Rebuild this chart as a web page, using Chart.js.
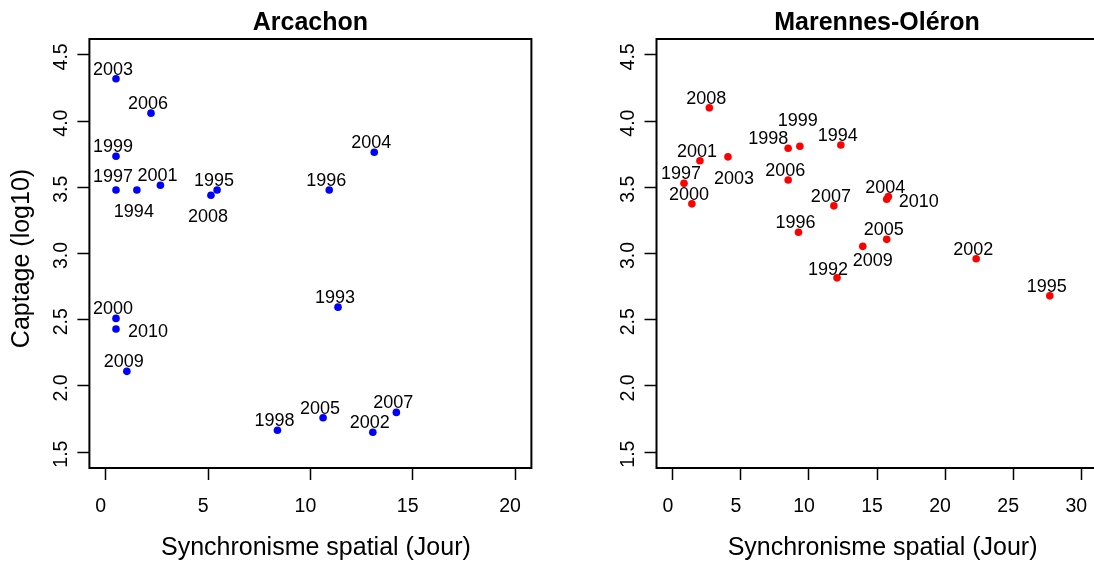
<!DOCTYPE html>
<html>
<head>
<meta charset="utf-8">
<script src="https://cdn.jsdelivr.net/npm/chart.js@4.4.1/dist/chart.umd.min.js"></script>
<style>
  html, body { margin: 0; padding: 0; background: #fff; overflow: hidden; }
  #wrap { position: relative; width: 1094px; height: 563px; overflow: hidden; }
  canvas { position: absolute; top: 0; }
  #arcachon { left: 0; }
  #marennes { left: 550px; }
</style>
</head>
<body>
<div id="wrap">
  <canvas id="arcachon" width="550" height="563"></canvas>
  <canvas id="marennes" width="560" height="563"></canvas>
</div>
<script>
// Arcachon
const arcYears = [1993, 1994, 1995, 1996, 1997, 1998, 1999, 2000, 2001, 2002, 2003, 2004, 2005, 2006, 2007, 2008, 2009, 2010];
const arcSync = [11.35, 1.52, 5.44, 10.92, 0.5, 8.39, 0.5, 0.5, 2.67, 13.05, 0.5, 13.12, 10.62, 2.21, 14.2, 5.14, 1.03, 0.5];
const arcCaptage = [2.595, 3.48, 3.48, 3.48, 3.48, 1.665, 3.735, 2.51, 3.515, 1.65, 4.32, 3.765, 1.76, 4.06, 1.8, 3.44, 2.11, 2.43];
const arcLabelPos = ["up", "down", "up", "up", "upHigh", "up", "up", "up", "up", "up", "up", "up", "up", "up", "up", "down", "up", "right"];

// Marennes-Oléron
const marYears = [1992, 1994, 1995, 1996, 1997, 1998, 1999, 2000, 2001, 2002, 2003, 2004, 2005, 2006, 2007, 2008, 2009, 2010];
const marSync = [12.06, 12.34, 27.69, 9.23, 0.82, 8.47, 9.33, 1.4, 1.99, 22.28, 4.05, 15.83, 15.71, 8.47, 11.83, 2.68, 13.95, 15.71];
const marCaptage = [2.816, 3.82, 2.68, 3.16, 3.53, 3.795, 3.81, 3.375, 3.7, 2.96, 3.73, 3.43, 3.107, 3.555, 3.36, 4.1, 3.054, 3.41];
const marLabelPos = ["upLeftNear", "up", "up", "up", "up", "upLeft", "upHigher", "up", "up", "up", "downRight", "up", "up", "up", "up", "up", "downRight2", "right"];

// axes
const arcXTicks = [0, 5, 10, 15, 20];
const marXTicks = [0, 5, 10, 15, 20, 25, 30];
const yTicks = [1.5, 2.0, 2.5, 3.0, 3.5, 4.0, 4.5];
const xTitle = "Synchronisme spatial (Jour)";
const yTitle = "Captage (log10)";

const FONT = "'Liberation Sans', Arial, Helvetica, sans-serif";

// label offsets (text centre relative to the point)
const labelOffsets = {
  up: [-3, -9],
  upHigh: [-3, -13],
  upHigher: [-2, -25],
  upLeft: [-20, -9],
  upLeftNear: [-9, -8],
  down: [-3, 22],
  downRight: [6, 22],
  downRight2: [10, 15],
  right: [32, 3],
};

const boxPlugin = {
  id: "box",
  afterDraw(chart) {
    const { ctx, chartArea: a } = chart;
    ctx.save();
    ctx.strokeStyle = "#000";
    ctx.lineWidth = 2;
    ctx.strokeRect(a.left, a.top, a.right - a.left, a.bottom - a.top);
    ctx.restore();
  },
};

// y tick labels (rotated, like R) and the axis titles
const axisTextPlugin = {
  id: "axisText",
  afterDraw(chart, args, opts) {
    const { ctx, chartArea: a } = chart;
    const y = chart.scales.y;
    ctx.save();
    ctx.fillStyle = "#000";
    ctx.textAlign = "center";
    ctx.textBaseline = "middle";
    ctx.font = "19.5px " + FONT;
    y.ticks.forEach((t) => {
      const py = y.getPixelForValue(t.value);
      ctx.save();
      ctx.translate(a.left - 28, py + 2);
      ctx.rotate(-Math.PI / 2);
      ctx.fillText(t.value.toFixed(1), 0, 0);
      ctx.restore();
    });

    ctx.font = "25px " + FONT;
    ctx.fillText(xTitle, (a.left + a.right) / 2 + 5.5, 548);
    if (opts.showYTitle) {
      ctx.save();
      ctx.translate(22, (a.top + a.bottom) / 2 + 5);
      ctx.rotate(-Math.PI / 2);
      ctx.fillText(yTitle, 0, 0);
      ctx.restore();
    }
    ctx.restore();
  },
};

const pointLabelPlugin = {
  id: "pointLabels",
  afterDatasetsDraw(chart, args, opts) {
    const { ctx } = chart;
    const meta = chart.getDatasetMeta(0);
    ctx.save();
    ctx.fillStyle = "#000";
    ctx.font = "18px " + FONT;
    ctx.textAlign = "center";
    ctx.textBaseline = "middle";
    meta.data.forEach((el, i) => {
      const off = labelOffsets[opts.pos[i]] || labelOffsets.up;
      ctx.fillText(String(opts.years[i]), el.x + off[0], el.y + off[1]);
    });
    ctx.restore();
  },
};

function makePanel(id, title, xs, ys, years, pos, color, xTicks, xMin, xMax, yAxisWidth, rightPad, showYTitle) {
  const points = xs.map((x, i) => ({ x: x, y: ys[i] }));
  return new Chart(document.getElementById(id), {
    type: "scatter",
    data: {
      datasets: [
        {
          data: points,
          backgroundColor: color,
          borderColor: color,
          pointRadius: 3.8,
          pointBorderWidth: 0,
        },
      ],
    },
    options: {
      responsive: false,
      animation: false,
      devicePixelRatio: 1,
      layout: { padding: { left: 0, right: rightPad, top: 0, bottom: 0 } },
      plugins: {
        legend: { display: false },
        tooltip: { enabled: false },
        title: {
          display: true,
          text: title,
          fullSize: false,
          color: "#000",
          font: { family: FONT, size: 25, weight: "bold", lineHeight: 1.2 },
          padding: { top: 8, bottom: 1 },
        },
        pointLabels: { years: years, pos: pos },
        axisText: { showYTitle: showYTitle },
      },
      scales: {
        x: {
          type: "linear",
          position: "bottom",
          min: xMin,
          max: xMax,
          afterBuildTicks: (s) => {
            s.ticks = xTicks.map((v) => ({ value: v }));
          },
          afterFit: (s) => {
            s.height = 95;
          },
          grid: { drawOnChartArea: false, drawTicks: true, tickLength: 12, tickColor: "#000", tickWidth: 1.5 },
          border: { display: false },
          ticks: { color: "#000", padding: 15, labelOffset: -5, maxRotation: 0, font: { family: FONT, size: 19.5, lineHeight: 1.2 } },
        },
        y: {
          type: "linear",
          min: 1.38,
          max: 4.62,
          afterBuildTicks: (s) => {
            s.ticks = yTicks.map((v) => ({ value: v }));
          },
          afterFit: (s) => {
            s.width = yAxisWidth;
          },
          grid: { drawOnChartArea: false, drawTicks: true, tickLength: 12, tickColor: "#000", tickWidth: 1.5 },
          border: { display: false },
          ticks: { display: false },
        },
      },
    },
    plugins: [boxPlugin, axisTextPlugin, pointLabelPlugin],
  });
}

makePanel("arcachon", "Arcachon", arcSync, arcCaptage, arcYears, arcLabelPos, "#0000ff",
  arcXTicks, -0.8, 20.8, 89.4, 18.6, true);
makePanel("marennes", "Marennes-Oléron", marSync, marCaptage, marYears, marLabelPos, "#ff0000",
  marXTicks, -1.2, 31.2, 106.5, 12.4, false);
</script>
</body>
</html>
